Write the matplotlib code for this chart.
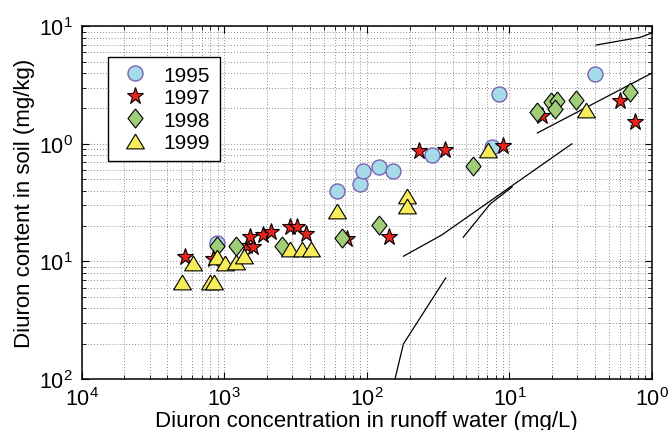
import numpy as np
import matplotlib.pyplot as plt

plt.rcParams['font.family'] = ['Liberation Sans', 'DejaVu Sans']
plt.rcParams['mathtext.fontset'] = 'custom'
plt.rcParams['mathtext.rm'] = 'Liberation Sans'
plt.rcParams['mathtext.default'] = 'regular'

# data (runoff water mg/L, soil mg/kg)
x1995 = [8.95e-4, 6.17e-3, 8.97e-3, 9.46e-3, 0.01225, 0.0152, 0.0286, 0.075, 0.0839, 0.399]
y1995 = [0.143, 0.395, 0.456, 0.585, 0.632, 0.592, 0.805, 0.935, 2.68, 3.93]

x1997 = [5.32e-4, 8.39e-4, 1.44e-3, 1.59e-3, 1.52e-3, 1.88e-3, 2.12e-3, 2.90e-3, 3.23e-3,
         3.73e-3, 7.31e-3, 0.0144, 0.0234, 0.0352, 0.0908, 0.1687, 0.597, 0.754]
y1997 = [0.1086, 0.105, 0.136, 0.1336, 0.1606, 0.169, 0.177, 0.195, 0.198,
         0.170, 0.155, 0.1615, 0.875, 0.887, 0.968, 1.74, 2.33, 1.53]

x1998 = [8.95e-4, 1.205e-3, 2.54e-3, 6.68e-3, 0.01225, 0.056, 0.1556, 0.196, 0.217,
         0.209, 0.292, 0.701]
y1998 = [0.136, 0.1346, 0.136, 0.158, 0.206, 0.645, 1.86, 2.26, 2.33, 1.98, 2.38, 2.78]

x1999 = [5.05e-4, 7.96e-4, 8.49e-4, 6.08e-4, 8.95e-4, 1.014e-3, 1.205e-3, 1.38e-3, 2.90e-3,
         3.53e-3, 4.06e-3, 6.17e-3, 0.0193, 0.0193, 0.0713, 0.344]
y1999 = [0.0665, 0.0665, 0.0665, 0.0966, 0.110, 0.0966, 0.0996, 0.1107, 0.128,
         0.128, 0.1265, 0.270, 0.363, 0.295, 0.893, 1.95]

# thin black reference curves
curves = [
    ([0.01807, 0.0336, 0.274], [0.1107, 0.168, 1.0]),
    ([0.0475, 0.0733, 0.1045], [0.1606, 0.308, 0.43]),
    ([0.01578, 0.01807, 0.0358], [0.01, 0.01987, 0.0724]),
    ([0.157, 1.0], [1.238, 4.0]),
    ([0.406, 0.826, 1.0], [6.93, 8.06, 8.77]),
]

xtick_vals = [1e-4, 1e-3, 1e-2, 1e-1, 1]
xtick_labels = ['$10^{4}$', '$10^{3}$', '$10^{2}$', '$10^{1}$', '$10^{0}$']
ytick_vals = [1e-2, 1e-1, 1, 10]
ytick_labels = ['$10^{2}$', '$10^{1}$', '$10^{0}$', '$10^{1}$']

fig = plt.figure(figsize=(6.68, 4.31), dpi=100)
ax = fig.add_axes([81.5 / 668, 51 / 431, 570.5 / 668, 352.7 / 431])
ax.set_xscale('log')
ax.set_yscale('log')

for cx, cy in curves:
    ax.plot(cx, cy, color='black', lw=0.9)

diamond = [(0, 1), (0.79, 0), (0, -1), (-0.79, 0), (0, 1)]
triangle = [(0, 0.83), (1, -0.83), (-1, -0.83), (0, 0.83)]

ax.plot(x1995, y1995, 'o', ls='none', ms=10.8, mfc='#a6dcea', mec='#7b62b4', mew=1.0, label='1995')
ax.plot(x1997, y1997, '*', ls='none', ms=12.5, mfc='#e8231e', mec='black', mew=0.8, label='1997')
ax.plot(x1998, y1998, marker=diamond, ls='none', ms=13.7, mfc='#a0cd78', mec='black', mew=0.8, label='1998')
ax.plot(x1999, y1999, marker=triangle, ls='none', ms=12.8, mfc='#f7ec5a', mec='black', mew=0.8, label='1999')

ax.set_xlim(1e-4, 1)
ax.set_ylim(1e-2, 10)
ax.set_xticks(xtick_vals)
ax.set_xticklabels(xtick_labels)
ax.set_yticks(ytick_vals)
ax.set_yticklabels(ytick_labels)
ax.tick_params(which='both', direction='in', top=True, right=True, labelsize=15.5, pad=6)
ax.tick_params(which='major', length=5, width=0.8)
ax.tick_params(which='minor', length=3, width=0.6)
ax.grid(True, which='both', linestyle=(0, (1, 2.5)), color='#666666', linewidth=0.6)
ax.set_axisbelow(True)
for s in ax.spines.values():
    s.set_linewidth(1.1)

ax.set_xlabel('Diuron concentration in runoff water (mg/L)', fontsize=16, labelpad=0)
ax.set_ylabel('Diuron content in soil (mg/kg)', fontsize=16, labelpad=3)

x0 = (108 - 81.5) / 570.5
w = (220 - 108) / 570.5
top = (380 - 58.3) / 352.7
h = (150 - 58.3) / 352.7
leg = ax.legend(loc='upper left', bbox_to_anchor=(x0, top - h, w, h), mode='expand',
                borderaxespad=0, fancybox=False, edgecolor='black', framealpha=1,
                fontsize=15, borderpad=0.4, handlelength=1.75, handletextpad=0.5,
                labelspacing=0.17)
leg.get_frame().set_linewidth(1.0)

fig.savefig('out.png', dpi=100)
